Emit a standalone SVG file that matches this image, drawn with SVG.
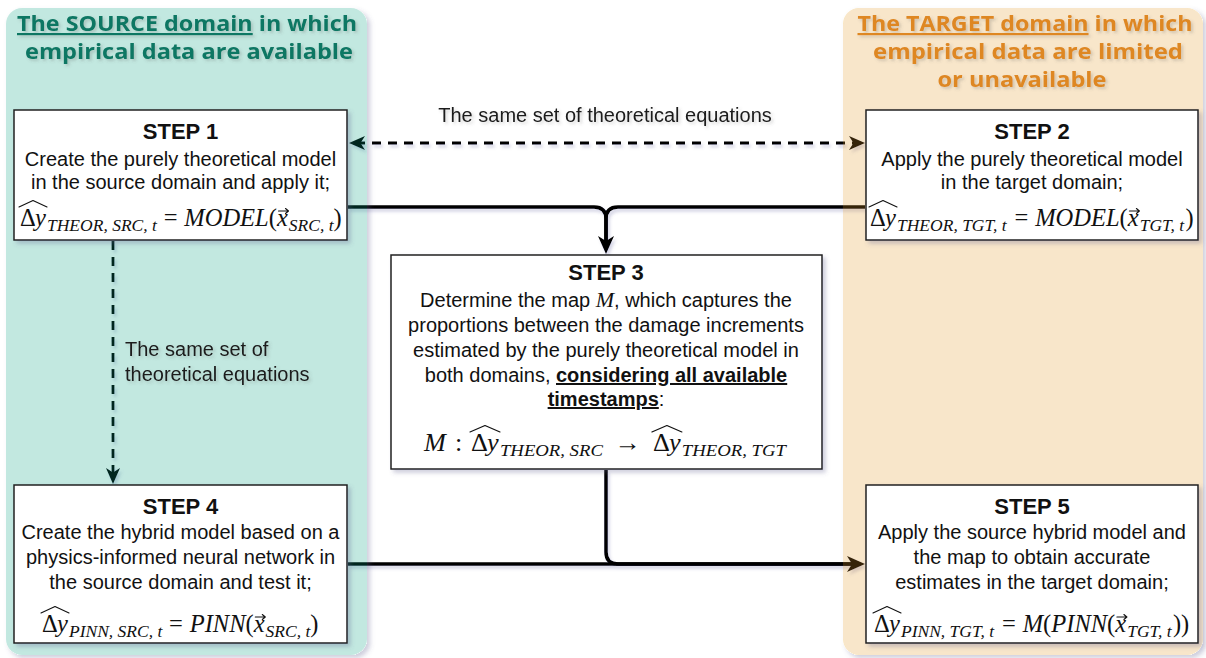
<svg xmlns="http://www.w3.org/2000/svg" width="1206" height="658" viewBox="0 0 1206 658">
  <defs>
    <style>
      .hdr { font-family: "Open Sans", "Lato", "Noto Sans", sans-serif; font-weight: 700; font-size: 22px; text-anchor: middle; }
      .src { fill: #0e7764; }
      .tgt { fill: #de8724; }
      .ttl { font-family: "Liberation Sans", Arial, sans-serif; font-weight: 700; font-size: 22px; text-anchor: middle; fill: #111; }
      .txt { font-family: "Liberation Sans", Arial, sans-serif; font-size: 20px; text-anchor: middle; fill: #111; }
      .lbl { font-family: "Liberation Sans", Arial, sans-serif; font-size: 20px; fill: #1a1a1a; }
      .box { fill: #ffffff; stroke: #222; stroke-width: 1.5; }
      .m { font-family: "Liberation Serif", "Times New Roman", serif; font-style: italic; font-size: 24.5px; fill: #111; }
      .r { font-style: normal; }
      .s { font-size: 17.5px; }
      .acc { fill: none; stroke: #111; stroke-width: 1.1; stroke-linecap: round; stroke-linejoin: round; }
      .flow { fill: none; stroke: #000; stroke-width: 3.5; stroke-linejoin: round; }
      .dash { fill: none; stroke: #000; stroke-width: 2.8; stroke-dasharray: 9 7; }
      .b { font-weight: 700; text-decoration: underline; }
    </style>
    <filter id="sh" x="-5%" y="-5%" width="115%" height="115%">
      <feDropShadow dx="3" dy="3" stdDeviation="2" flood-color="#5a5a8c" flood-opacity="0.3"/>
    </filter>
    <!-- shadow for translucent containers: only drawn outside the shape -->
    <filter id="psh" x="-5%" y="-5%" width="115%" height="115%">
      <feComponentTransfer in="SourceAlpha" result="solid">
        <feFuncA type="linear" slope="20"/>
      </feComponentTransfer>
      <feGaussianBlur in="solid" stdDeviation="2.5" result="blur"/>
      <feOffset in="blur" dx="3" dy="3" result="off"/>
      <feComposite in="off" in2="solid" operator="out" result="outside"/>
      <feFlood flood-color="#5a5a8c" flood-opacity="0.3" result="col"/>
      <feComposite in="col" in2="outside" operator="in" result="shadow"/>
      <feMerge>
        <feMergeNode in="shadow"/>
        <feMergeNode in="SourceGraphic"/>
      </feMerge>
    </filter>
    <filter id="lsh" x="-5%" y="-5%" width="115%" height="115%">
      <feDropShadow dx="2" dy="3" stdDeviation="1.5" flood-color="#5a5a9c" flood-opacity="0.25"/>
    </filter>
    <filter id="tsh" x="-5%" y="-20%" width="115%" height="160%">
      <feDropShadow dx="2" dy="2" stdDeviation="1.5" flood-color="#555" flood-opacity="0.25"/>
    </filter>
    <marker id="big" markerUnits="userSpaceOnUse" markerWidth="18" markerHeight="16" viewBox="0 0 18 16" refX="10" refY="8" orient="auto-start-reverse">
      <path d="M0,0 L18,8 L0,16 L5,8 Z" fill="#000"/>
    </marker>
    <marker id="small" markerUnits="userSpaceOnUse" markerWidth="16" markerHeight="14" viewBox="0 0 16 14" refX="9" refY="7" orient="auto-start-reverse">
      <path d="M0,0 L16,7 L0,14 L4.5,7 Z" fill="#000"/>
    </marker>
  </defs>

  <rect width="1206" height="658" fill="#ffffff"/>

  <!-- connectors -->
  <g id="connectors" filter="url(#lsh)">
    <path class="dash" d="M356,143 H858" marker-start="url(#small)" marker-end="url(#small)"/>
    <path class="dash" d="M113,241 V477" marker-end="url(#small)"/>
    <path class="flow" d="M348,207 H594 Q606,207 606,219 V246" marker-end="url(#big)"/>
    <path class="flow" d="M865,207 H618 Q606,207 606,219 V246"/>
    <path class="flow" d="M606,470 V552 Q606,564 618,564 H857" marker-end="url(#big)"/>
    <path class="flow" d="M348,564 H857"/>
  </g>

  <!-- domain containers (translucent, so lines beneath take on their tint) -->
  <g id="source-domain">
    <rect x="6" y="8" width="361" height="647" rx="16" fill="rgb(5,159,126)" fill-opacity="0.24" filter="url(#psh)"/>
    <g filter="url(#tsh)">
      <text class="hdr src" x="187" y="31" textLength="340" lengthAdjust="spacingAndGlyphs"><tspan text-decoration="underline">The SOURCE domain</tspan> in which</text>
      <text class="hdr src" x="189" y="59" textLength="328" lengthAdjust="spacingAndGlyphs">empirical data are available</text>
    </g>
  </g>
  <g id="target-domain">
    <rect x="843" y="8" width="360" height="647" rx="16" fill="rgb(226,151,26)" fill-opacity="0.24" filter="url(#psh)"/>
    <g filter="url(#tsh)">
      <text class="hdr tgt" x="1025" y="31" textLength="335" lengthAdjust="spacingAndGlyphs"><tspan text-decoration="underline">The TARGET domain</tspan> in which</text>
      <text class="hdr tgt" x="1028" y="59" textLength="310" lengthAdjust="spacingAndGlyphs">empirical data are limited</text>
      <text class="hdr tgt" x="1022" y="87" textLength="169" lengthAdjust="spacingAndGlyphs">or unavailable</text>
    </g>
  </g>

  <!-- connector labels -->
  <g id="connector-labels" filter="url(#tsh)">
    <text class="lbl" x="605" y="122" text-anchor="middle">The same set of theoretical equations</text>
    <text class="lbl" x="125" y="356">The same set of</text>
    <text class="lbl" x="125" y="381">theoretical equations</text>
  </g>

  <!-- STEP 1 -->
  <g id="step1">
    <rect class="box" x="14" y="110" width="333" height="130" filter="url(#sh)"/>
    <text class="ttl" x="180.5" y="139">STEP 1</text>
    <text class="txt" x="180.5" y="166">Create the purely theoretical model</text>
    <text class="txt" x="180.5" y="189">in the source domain and apply it;</text>
    <g transform="translate(20,226)">
      <text class="m"><tspan class="r" x="0" y="0">Δ</tspan><tspan x="15" y="0">y</tspan><tspan class="s" x="27" y="5">THEOR, SRC, t</tspan><tspan class="r" x="143.7" y="0">=</tspan><tspan x="164.3" y="0">MODEL</tspan><tspan class="r" x="248.7" y="0">(</tspan><tspan x="256.9" y="0">x</tspan><tspan class="s" x="268.8" y="5">SRC, t</tspan><tspan class="r" x="313.5" y="0">)</tspan></text>
      <path class="acc" d="M-1,-19 L13,-25.5 L27,-19"/>
      <path class="acc" d="M258.5,-15 H268.5 M265.5,-17.5 L268.5,-15 L265.5,-12.5"/>
    </g>
  </g>

  <!-- STEP 2 -->
  <g id="step2">
    <rect class="box" x="866" y="110" width="332" height="130" filter="url(#sh)"/>
    <text class="ttl" x="1032" y="139">STEP 2</text>
    <text class="txt" x="1032" y="166">Apply the purely theoretical model</text>
    <text class="txt" x="1032" y="189">in the target domain;</text>
    <g transform="translate(870,226)">
      <text class="m"><tspan class="r" x="0" y="0">Δ</tspan><tspan x="15" y="0">y</tspan><tspan class="s" x="27" y="5">THEOR, TGT, t</tspan><tspan class="r" x="144.6" y="0">=</tspan><tspan x="165.2" y="0">MODEL</tspan><tspan class="r" x="249.6" y="0">(</tspan><tspan x="257.8" y="0">x</tspan><tspan class="s" x="269.7" y="5">TGT, t</tspan><tspan class="r" x="315.4" y="0">)</tspan></text>
      <path class="acc" d="M-1,-19 L13,-25.5 L27,-19"/>
      <path class="acc" d="M259.4,-15 H269.4 M266.4,-17.5 L269.4,-15 L266.4,-12.5"/>
    </g>
  </g>

  <!-- STEP 3 -->
  <g id="step3">
    <rect class="box" x="391" y="255" width="431" height="214" filter="url(#sh)"/>
    <text class="ttl" x="606" y="280">STEP 3</text>
    <text class="txt" x="606" y="307">Determine the map <tspan font-family="Liberation Serif, serif" font-style="italic" font-size="22">M</tspan>, which captures the</text>
    <text class="txt" x="606" y="332">proportions between the damage increments</text>
    <text class="txt" x="606" y="357">estimated by the purely theoretical model in</text>
    <text class="txt" x="606" y="382">both domains, <tspan class="b">considering all available</tspan></text>
    <text class="txt" x="606" y="406"><tspan class="b">timestamps</tspan>:</text>
    <g transform="translate(424,451) scale(1.07,1)">
      <text class="m"><tspan x="0" y="0">M</tspan><tspan class="r" x="29" y="0">:</tspan><tspan class="r" x="44" y="0">Δ</tspan><tspan x="59" y="0">y</tspan><tspan class="s" x="71" y="5">THEOR, SRC</tspan><tspan class="r" x="178" y="0">→</tspan><tspan class="r" x="214" y="0">Δ</tspan><tspan x="229" y="0">y</tspan><tspan class="s" x="241" y="5">THEOR, TGT</tspan></text>
      <path class="acc" d="M43,-19 L57,-25.5 L71,-19"/>
      <path class="acc" d="M213,-19 L227,-25.5 L241,-19"/>
    </g>
  </g>

  <!-- STEP 4 -->
  <g id="step4">
    <rect class="box" x="14" y="485" width="333" height="158" filter="url(#sh)"/>
    <text class="ttl" x="180.5" y="514">STEP 4</text>
    <text class="txt" x="180.5" y="539">Create the hybrid model based on a</text>
    <text class="txt" x="180.5" y="564">physics-informed neural network in</text>
    <text class="txt" x="180.5" y="589">the source domain and test it;</text>
    <g transform="translate(42,632)">
      <text class="m"><tspan class="r" x="0" y="0">Δ</tspan><tspan x="15" y="0">y</tspan><tspan class="s" x="27" y="5">PINN, SRC, t</tspan><tspan class="r" x="127.1" y="0">=</tspan><tspan x="147.7" y="0">PINN</tspan><tspan class="r" x="203.5" y="0">(</tspan><tspan x="211.7" y="0">x</tspan><tspan class="s" x="223.6" y="5">SRC, t</tspan><tspan class="r" x="268.3" y="0">)</tspan></text>
      <path class="acc" d="M-1,-19 L13,-25.5 L27,-19"/>
      <path class="acc" d="M213.3,-15 H223.3 M220.3,-17.5 L223.3,-15 L220.3,-12.5"/>
    </g>
  </g>

  <!-- STEP 5 -->
  <g id="step5">
    <rect class="box" x="866" y="485" width="332" height="158" filter="url(#sh)"/>
    <text class="ttl" x="1032" y="514">STEP 5</text>
    <text class="txt" x="1032" y="539">Apply the source hybrid model and</text>
    <text class="txt" x="1032" y="564">the map to obtain accurate</text>
    <text class="txt" x="1032" y="589">estimates in the target domain;</text>
    <g transform="translate(874,632)">
      <text class="m"><tspan class="r" x="0" y="0">Δ</tspan><tspan x="15" y="0">y</tspan><tspan class="s" x="27" y="5">PINN, TGT, t</tspan><tspan class="r" x="128.1" y="0">=</tspan><tspan x="148.7" y="0">M</tspan><tspan class="r" x="169.1" y="0">(</tspan><tspan x="177.3" y="0">PINN</tspan><tspan class="r" x="233.1" y="0">(</tspan><tspan x="241.3" y="0">x</tspan><tspan class="s" x="253.2" y="5">TGT, t</tspan><tspan class="r" x="298.9" y="0">)</tspan><tspan class="r" x="307.1" y="0">)</tspan></text>
      <path class="acc" d="M-1,-19 L13,-25.5 L27,-19"/>
      <path class="acc" d="M242.9,-15 H252.9 M249.9,-17.5 L252.9,-15 L249.9,-12.5"/>
    </g>
  </g>
</svg>
